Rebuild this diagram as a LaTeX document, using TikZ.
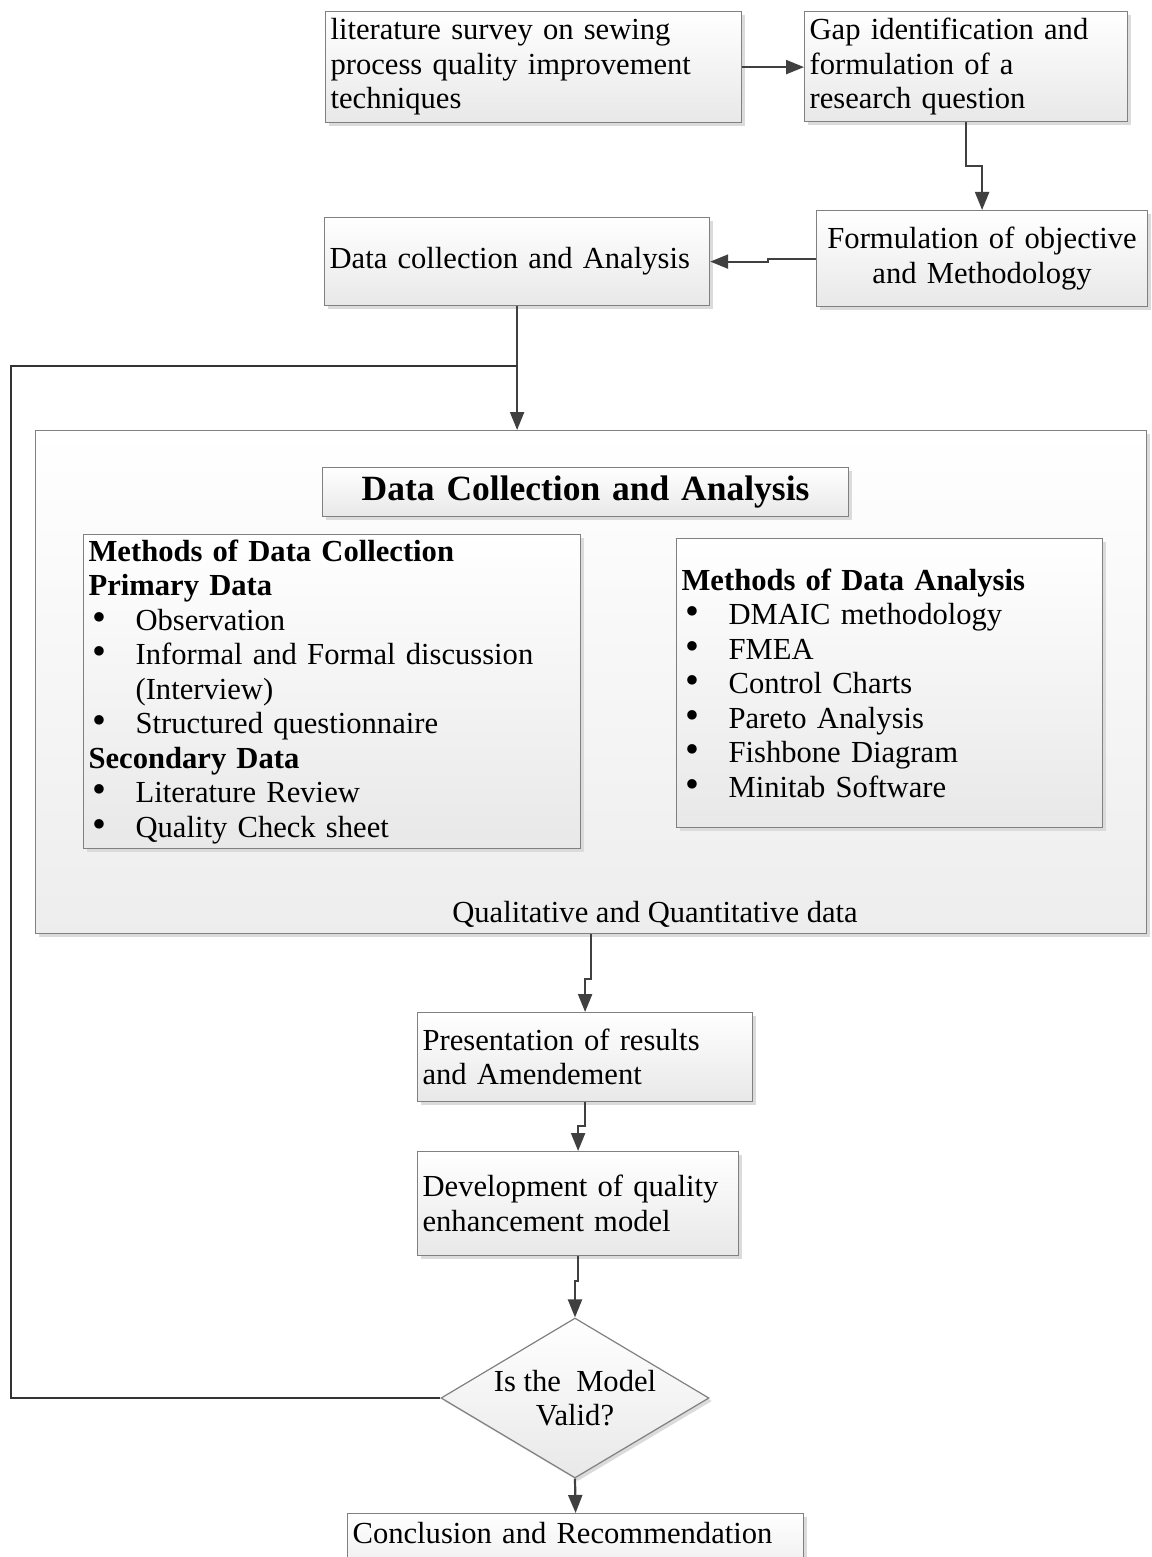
\documentclass[tikz,border=0pt]{standalone}
\usepackage{fontspec}
\setmainfont{Liberation Serif}
\usetikzlibrary{shapes.geometric,shadows,arrows.meta,calc}

\newcommand\bul[1]{\makebox[47pt][l]{\hspace*{4pt}\scalebox{1.3}{\textbullet}}#1}
\newcommand\cont[1]{\hspace*{47pt}#1}

\tikzset{
  x=1pt, y=-1pt,
  every node/.style={font=\fontsize{30.6}{34.5}\selectfont},
  flowbox/.style={draw=black!50, line width=1.2pt, top color=white, bottom color=black!9,
    drop shadow={shadow xshift=3pt, shadow yshift=-3pt, fill=black!14, opacity=1},
    inner sep=5pt, anchor=north west},
  leftbox/.style={flowbox, align=left},
  midbox/.style={flowbox, align=center},
  conn/.style={draw=black!75, line width=2.2pt, -{Triangle[length=18pt,width=14pt]}},
  plainline/.style={draw=black!80, line width=1.3pt},
}

\begin{document}
\begin{tikzpicture}
\useasboundingbox (0,0) rectangle (1151,1557);

% top row
\node[leftbox, minimum width=416pt, minimum height=111pt, text width=406pt] (lit) at (325,11)
  {literature survey on sewing\\process quality improvement\\techniques};
\node[leftbox, minimum width=323pt, minimum height=110pt, text width=313pt] (gap) at (804,11)
  {Gap identification and\\formulation of a\\research question};

% second row
\node[midbox, minimum width=331pt, minimum height=96pt, text width=321pt] (form) at (816,210)
  {Formulation of objective\\and Methodology};
\node[leftbox, minimum width=385pt, minimum height=88pt, text width=375pt] (data) at (324,217)
  {Data collection and Analysis};

% large data collection block
\node[flowbox, minimum width=1111pt, minimum height=503pt,
      top color=white, bottom color=black!7] (big) at (35,430) {};
\node[midbox, minimum width=526pt, minimum height=49pt, text width=516pt,
      font=\fontsize{35.5}{38}\selectfont\bfseries] (title) at (322,467)
  {Data Collection and Analysis};
\node[leftbox, minimum width=497pt, minimum height=314pt, text width=487pt] (collect) at (83,534)
  {\textbf{Methods of Data Collection}\\
   \textbf{Primary Data}\\
   \bul{Observation}\\
   \bul{Informal and Formal discussion}\\
   \cont{(Interview)}\\
   \bul{Structured questionnaire}\\
   \textbf{Secondary Data}\\
   \bul{Literature Review}\\
   \bul{Quality Check sheet}};
\node[leftbox, minimum width=426pt, minimum height=289pt, text width=416pt] (analyse) at (676,538)
  {\textbf{Methods of Data Analysis}\\
   \bul{DMAIC methodology}\\
   \bul{FMEA}\\
   \bul{Control Charts}\\
   \bul{Pareto Analysis}\\
   \bul{Fishbone Diagram}\\
   \bul{Minitab Software}};
\node[inner sep=0pt, anchor=base] (qual) at (655,922) {Qualitative and Quantitative data};

% lower flow
\node[leftbox, minimum width=335pt, minimum height=89pt, text width=325pt] (pres) at (417,1012)
  {Presentation of results\\and Amendement};
\node[leftbox, minimum width=321pt, minimum height=104pt, text width=311pt] (dev) at (417,1151)
  {Development of quality\\enhancement model};
\node[diamond, draw=black!50, line width=1.2pt, top color=white, bottom color=black!9,
      drop shadow={shadow xshift=3pt, shadow yshift=-3pt, fill=black!14, opacity=1},
      minimum width=268pt, minimum height=160pt, aspect=1.675, inner sep=0pt, align=center]
  (valid) at (575,1398) {Is the\ \ Model\\Valid?};
\node[leftbox, minimum width=456pt, text width=446pt, text height=25pt, text depth=40pt]
  (concl) at (347,1513) {Conclusion and Recommendation};

% connectors
\draw[conn] (lit.east) -- (gap.west |- lit.east);
\draw[conn] (gap.south) -- ++(0,44) -| (form.north);
\draw[conn] (form.west) -- ++(-48,0) |- (data.east);
\draw[conn] (data.south) -- (data.south |- big.north);
\draw[conn] (big.south) -- ++(0,45) -| (pres.north);
\draw[conn] (pres.south) -- ++(0,24) -| (dev.north);
\draw[conn] (dev.south) -- ++(0,25) -| (valid.north);
\draw[conn] (valid.south) -- (concl.north);

% loop back when the model is not valid
\coordinate (back) at (11,366);
\draw[plainline] (valid.west) -| (back) -- (back -| data.south);
\end{tikzpicture}
\end{document}
